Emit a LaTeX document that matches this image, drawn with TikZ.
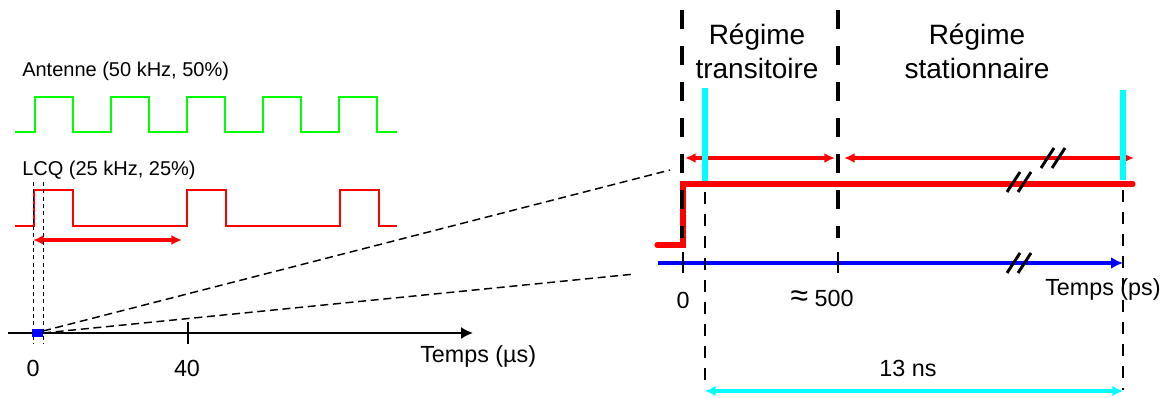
\documentclass[tikz,border=0pt]{standalone}
\usepackage{fontspec}
\setmainfont{Liberation Sans}
\usetikzlibrary{arrows.meta}
\definecolor{aqua}{RGB}{0,255,255}

\newcommand{\cutmark}[2]{%
  \draw[cut] ({#1-12},{#2+10}) -- ({#1+1},{#2-10});
  \draw[cut] ({#1-1},{#2+10}) -- ({#1+12},{#2-10});
}

\begin{document}
\begin{tikzpicture}[
      x=0.75pt, y=-0.75pt,
      small/.style={font=\fontsize{15}{18}\selectfont, inner sep=0pt},
      lbl/.style={font=\fontsize{17.5}{21}\selectfont, inner sep=0pt},
      big/.style={font=\fontsize{21}{25.5}\selectfont, align=center, inner sep=0pt},
      antsig/.style={green, line width=1.6pt},
      lcqsig/.style={red, line width=1.6pt},
      axis/.style={line width=1.5pt, -{Latex[length=9pt, width=9pt]}},
      zoomline/.style={dash pattern=on 6pt off 3.5pt, line width=1.1pt},
      guide/.style={dash pattern=on 3pt off 2.5pt, line width=0.7pt},
      regime/.style={line width=3pt, dash pattern=on 14.25pt off 12.75pt},
      bound/.style={line width=2.2pt, dash pattern=on 9pt off 7.5pt},
      span/.style={red, line width=#1, {Latex[length=8pt, width=7.5pt]}-{Latex[length=8pt, width=7.5pt]}},
      cut/.style={line width=2.2pt},
      tick/.style={line width=0.8pt}
  ]
    \useasboundingbox (0,0) rectangle (1173,398);

    % left: signaux
    \node[small, anchor=base west] (ant) at (22,77) {Antenne (50 kHz, 50\%)};
    \draw[antsig] (15,132) foreach \k in {0,...,4} {
        -- ({35+76*\k},132) -- ({35+76*\k},97) -- ({73+76*\k},97) -- ({73+76*\k},132)} -- (397,132);

    \node[small, anchor=base west] (lcq) at (22,176) {LCQ (25 kHz, 25\%)};
    \draw[lcqsig] (15,226) foreach \k in {0,1,2} {
        -- ({34+153*\k},226) -- ({34+153*\k},190) -- ({73+153*\k},190) -- ({73+153*\k},226)} -- (397,226);
    \draw[span=3.5pt] (33,240) -- (182,240);

    \draw[guide] (33,182) -- (33,344);
    \draw[guide] (43,182) -- (43,344);

    \draw[axis] (8,333) -- (473,333);
    \draw[tick] (188,322) -- (188,344);
    \fill[blue] (32,329) rectangle (43,337);
    \node[lbl] (t0) at (33,368) {0};
    \node[lbl] (t40) at (187,368) {40};
    \node[lbl, anchor=west] (tus) at (420,356) {Temps (µs)};

    % zoom
    \coordinate (o) at (43,331);
    \draw[zoomline] (o) -- (670,170);
    \draw[zoomline] (43,333) -- (635,274);

    % right: agrandissement
    \node[big] (trans) at (757,51) {Régime\\transitoire};
    \node[big] (stat) at (977,51) {Régime\\stationnaire};

    \draw[blue, line width=3.5pt, -{Latex[length=9pt, width=9pt]}] (658,263) -- (1123,263);
    \draw[tick] (683,252) -- (683,273);
    \draw[tick] (838,252) -- (838,273);

    \draw[span=2.5pt] (685,158) -- (835,158);
    \draw[span=2.5pt] (844,158) -- (1134,158);

    \draw[aqua, line width=4.5pt] (705,88) -- (705,184);
    \draw[aqua, line width=4.5pt] (1123,90) -- (1123,180);

    \draw[red, line width=3.8pt, line cap=round] (657,245) -- (683,245) -- (683,184) -- (1133,184);

    \draw[regime] (682,10) -- (682,238);
    \draw[regime] (838,10) -- (838,238);

    \draw[bound] (705,192) -- (705,390);
    \draw[bound] (1123,190) -- (1123,390);

    \cutmark{1053}{158}
    \cutmark{1019}{182}
    \cutmark{1019}{263}

    \node[lbl] (r0) at (683,300) {0};
    \node[lbl] (r500) at (822,298) {{\fontsize{24}{24}\selectfont ≈} 500};
    \node[lbl, anchor=west] (tps) at (1045,289) {Temps (ps)};

    \node[lbl] (ns) at (908,368) {13 ns};
    \draw[aqua, line width=3.5pt, {Latex[length=8pt, width=8pt]}-{Latex[length=8pt, width=8pt]}] (705,391) -- (1123,391);
\end{tikzpicture}
\end{document}
